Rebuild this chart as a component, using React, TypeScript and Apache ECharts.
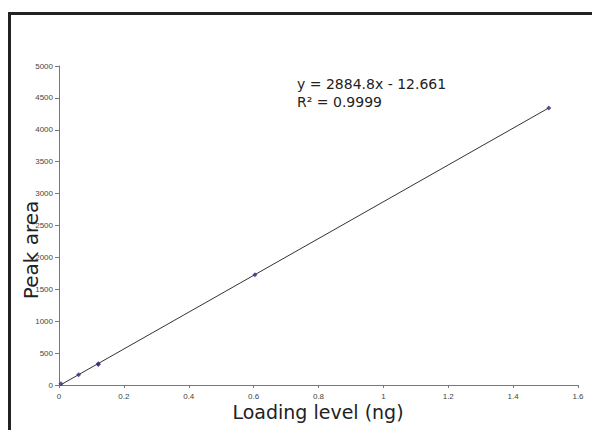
import React, { useEffect, useRef } from "react";
import * as echarts from "echarts";

const loadingLevels = [0.00604, 0.0604, 0.121, 0.121, 0.604, 1.51];
const peakAreas = [18, 161, 322, 335, 1728, 4340];
const trendX = [0.00604, 1.51];
const trendY = [5, 4343];
const xTicks = { min: 0, max: 1.6, interval: 0.2 };
const yTicks = { min: 0, max: 5000, interval: 500 };
const equationText = "y = 2884.8x - 12.661";
const r2Text = "R² = 0.9999";
const xTitle = "Loading level (ng)";
const yTitle = "Peak area";

export default function App() {
  const ref = useRef<HTMLDivElement>(null);
  useEffect(() => {
    const chart = echarts.init(ref.current!, null, { renderer: "svg" });
    const labelStyle = {
      fontFamily: "'Liberation Sans Narrow', 'Arial Narrow', 'Liberation Sans', sans-serif",
      fontSize: 8,
      color: "#444",
      formatter: (v: number) => String(v),
    };
    chart.setOption({
      animation: false,
      backgroundColor: "#fff",
      grid: { left: 59, top: 66, right: 14, bottom: 45, containLabel: false },
      xAxis: {
        type: "value",
        min: xTicks.min,
        max: xTicks.max,
        interval: xTicks.interval,
        splitLine: { show: false },
        axisLine: { show: true, lineStyle: { color: "#777", width: 1 } },
        axisTick: { show: true, length: 3, lineStyle: { color: "#777" } },
        axisLabel: { ...labelStyle, margin: 7 },
      },
      yAxis: {
        type: "value",
        min: yTicks.min,
        max: yTicks.max,
        interval: yTicks.interval,
        splitLine: { show: false },
        axisLine: { show: true, lineStyle: { color: "#777", width: 1 } },
        axisTick: { show: true, length: 4, lineStyle: { color: "#777" } },
        axisLabel: { ...labelStyle, margin: 6 },
      },
      series: [
        {
          type: "line",
          data: trendX.map((x, i) => [x, trendY[i]]),
          symbol: "none",
          lineStyle: { color: "#333", width: 1 },
          silent: true,
          z: 1,
        },
        {
          type: "scatter",
          data: loadingLevels.map((x, i) => [x, peakAreas[i]]),
          symbol: "diamond",
          symbolSize: 5,
          itemStyle: { color: "#2e2e80" },
          z: 2,
        },
      ],
      graphic: [
        {
          type: "rect",
          shape: { x: 9.5, y: 13.5, width: 700, height: 600 },
          style: { fill: "none", stroke: "#222", lineWidth: 3 },
          z: 10,
        },
        {
          type: "text",
          x: 297,
          y: 91,
          style: {
            text: equationText,
            fontFamily: "DejaVu Sans, Verdana, sans-serif",
            fontSize: 14,
            fill: "#222",
            textVerticalAlign: "bottom",
          },
        },
        {
          type: "text",
          x: 297,
          y: 109,
          style: {
            text: r2Text,
            fontFamily: "DejaVu Sans, Verdana, sans-serif",
            fontSize: 14,
            fill: "#222",
            textVerticalAlign: "bottom",
          },
        },
        {
          type: "text",
          x: 318,
          y: 412,
          style: {
            text: xTitle,
            fontFamily: "DejaVu Sans, Verdana, sans-serif",
            fontSize: 19,
            fill: "#222",
            textAlign: "center",
            textVerticalAlign: "middle",
          },
        },
        {
          type: "text",
          x: 31,
          y: 250,
          rotation: Math.PI / 2,
          style: {
            text: yTitle,
            fontFamily: "DejaVu Sans, Verdana, sans-serif",
            fontSize: 20,
            fill: "#222",
            textAlign: "center",
            textVerticalAlign: "middle",
          },
        },
      ],
    });
    return () => chart.dispose();
  }, []);
  return (
    <div
      ref={ref}
      style={{ position: "absolute", left: 0, top: 0, width: 592, height: 430 }}
    />
  );
}
